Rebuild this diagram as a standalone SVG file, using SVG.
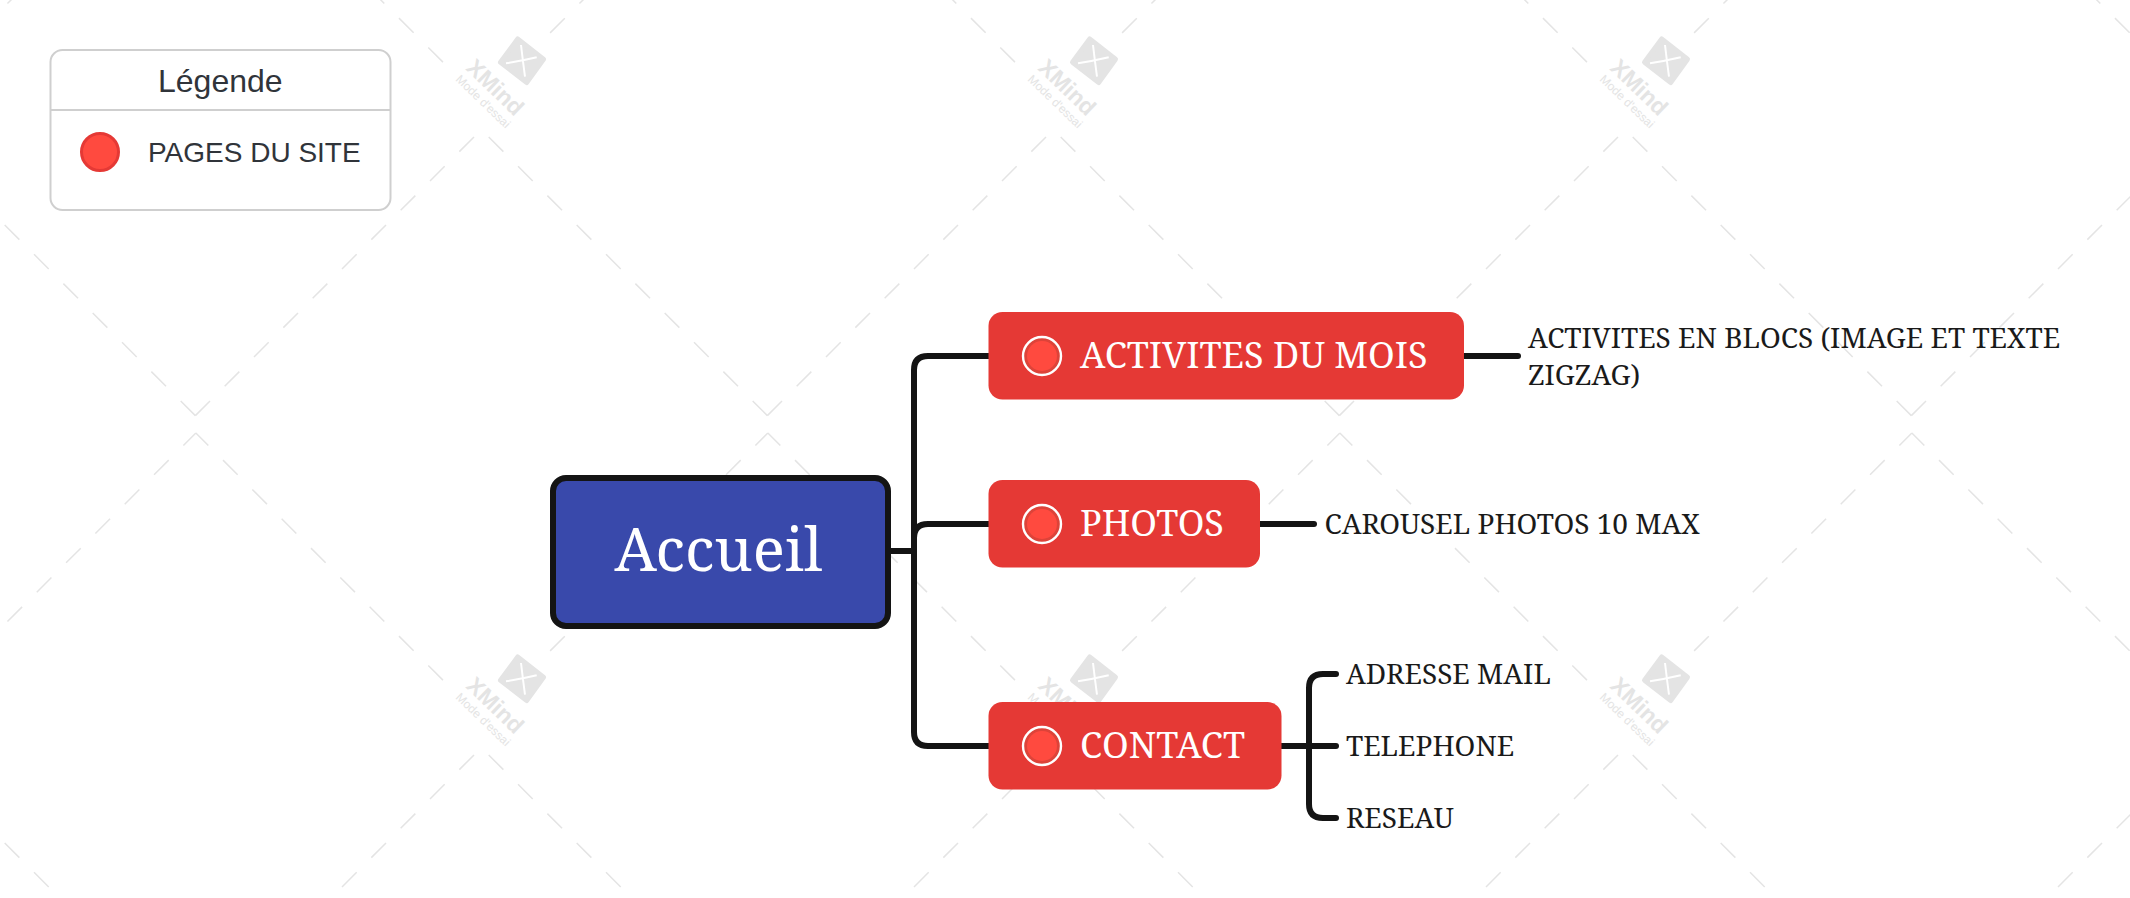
<svg xmlns="http://www.w3.org/2000/svg" xmlns:xlink="http://www.w3.org/1999/xlink" width="2130" height="898" viewBox="0 0 2130 898">
<style>
.wm{fill:none;stroke:#e4e4e4;stroke-width:1.5;stroke-dasharray:20.74 20.74}
.wmp{stroke-dashoffset:3.1}
.conn{fill:none;stroke:#141414;stroke-width:6;stroke-linecap:round}
.butt{stroke-linecap:butt}
.topic{fill:#e53935}
.title{font-family:"Noto Serif","Liberation Serif",serif;fill:#fff;font-size:36px}
.sub{font-family:"Noto Serif","Liberation Serif",serif;fill:#1a1a1a;font-size:28px}
.ring{fill:#dd4339;stroke:#fff;stroke-width:2.4}
.ringin{fill:#ff4a3f}
.leg{font-family:"Liberation Sans",Arial,sans-serif;fill:#30343a}
</style>
<defs>
<g id="wm-lines">
<path class="wm wmp" d="M195.85-185L450 69.15"/>
<path class="wm wmp" d="M767.85-185L542.85 40.15"/>
<path class="wm" d="M195.35 415.6L480 130.95"/>
<path class="wm" d="M767.35 415.6L482.7 130.95"/>
</g>
<g id="wm-logo">
<path d="M517.7 39L543.5 59.3L526.7 82.5L500.5 62.3Z" fill="#e4e4e4" stroke="#e4e4e4" stroke-width="5" stroke-linejoin="round"/>
<path d="M521 45Q523 62 525 76.7M506 63.3Q521 61 536.7 57.3" fill="none" stroke="#fff" stroke-width="2"/>
<text transform="translate(465 69) rotate(44)" font-family="Liberation Sans,sans-serif" font-weight="700" font-size="23" fill="#e4e4e4">XMind</text>
<text transform="translate(455 80) rotate(44)" font-family="Liberation Sans,sans-serif" font-size="12" fill="#e4e4e4">Mode d'essai</text>
</g>
<g id="icon"><circle class="ring" r="19"/><circle class="ringin" r="15"/></g>
</defs>
<rect width="2130" height="898" fill="#fff"/>
<g id="watermark">
<use xlink:href="#wm-lines" x="-572"/><use xlink:href="#wm-lines"/><use xlink:href="#wm-lines" x="572"/><use xlink:href="#wm-lines" x="1144"/><use xlink:href="#wm-lines" x="1716"/>
<use xlink:href="#wm-lines" x="-572" y="618"/><use xlink:href="#wm-lines" y="618"/><use xlink:href="#wm-lines" x="572" y="618"/><use xlink:href="#wm-lines" x="1144" y="618"/><use xlink:href="#wm-lines" x="1716" y="618"/>
<use xlink:href="#wm-logo"/><use xlink:href="#wm-logo" x="572"/><use xlink:href="#wm-logo" x="1144"/>
<use xlink:href="#wm-logo" y="618"/><use xlink:href="#wm-logo" x="572" y="618"/><use xlink:href="#wm-logo" x="1144" y="618"/>
</g>
<g id="connectors">
<path class="conn butt" d="M891 551H914"/>
<path class="conn butt" d="M914 551V370Q914 356 928 356H990"/>
<path class="conn butt" d="M914 551V538Q914 524 928 524H990"/>
<path class="conn butt" d="M914 551V732Q914 746 928 746H990"/>
<path class="conn" d="M1462 356H1518"/>
<path class="conn" d="M1258 524H1314"/>
<path class="conn" d="M1280 746H1336"/>
<path class="conn" d="M1336 674H1323Q1309 674 1309 688V804Q1309 818 1323 818H1336"/>
</g>
<g id="legend">
<rect x="50.5" y="50" width="340" height="160" rx="12" fill="#fff" stroke="#cfcfcf" stroke-width="2"/>
<path d="M50.5 110H390.500" stroke="#cfcfcf" stroke-width="2"/>
<text class="leg" x="158" y="91.500" font-size="32">Légende</text>
<circle cx="100" cy="152" r="18.500" fill="#ff4a3f" stroke="#e53935" stroke-width="3"/>
<text class="leg" x="148" y="161.500" font-size="28">PAGES DU SITE</text>
</g>
<g id="node-accueil">
<rect x="553" y="478" width="335" height="148" rx="13" fill="#3949ab" stroke="#141414" stroke-width="6"/>
<text x="718.500" y="571" text-anchor="middle" font-family="Noto Serif,Liberation Serif,serif" font-size="60" fill="#fff">Accueil</text>
</g>
<g id="node-activites">
<rect class="topic" x="988.500" y="312" width="475.500" height="87.500" rx="14"/>
<use xlink:href="#icon" x="1042" y="356"/>
<text class="title" x="1080" y="367.500">ACTIVITES DU MOIS</text>
</g>
<g id="node-photos">
<rect class="topic" x="988.500" y="480" width="271.500" height="87.500" rx="14"/>
<use xlink:href="#icon" x="1042" y="524"/>
<text class="title" x="1080" y="535.500">PHOTOS</text>
</g>
<g id="node-contact">
<rect class="topic" x="988.500" y="702" width="293" height="87.500" rx="14"/>
<use xlink:href="#icon" x="1042" y="746"/>
<text class="title" x="1080" y="757.500">CONTACT</text>
</g>
<g id="node-activites-detail">
<text class="sub" x="1528" y="348">ACTIVITES EN BLOCS (IMAGE ET TEXTE</text>
<text class="sub" x="1528" y="384.500">ZIGZAG)</text>
</g>
<g id="node-carousel"><text class="sub" x="1324.500" y="534">CAROUSEL PHOTOS 10 MAX</text></g>
<g id="node-adresse"><text class="sub" x="1346" y="683.500">ADRESSE MAIL</text></g>
<g id="node-telephone"><text class="sub" x="1346" y="755.500">TELEPHONE</text></g>
<g id="node-reseau"><text class="sub" x="1346" y="827.500">RESEAU</text></g>
</svg>
